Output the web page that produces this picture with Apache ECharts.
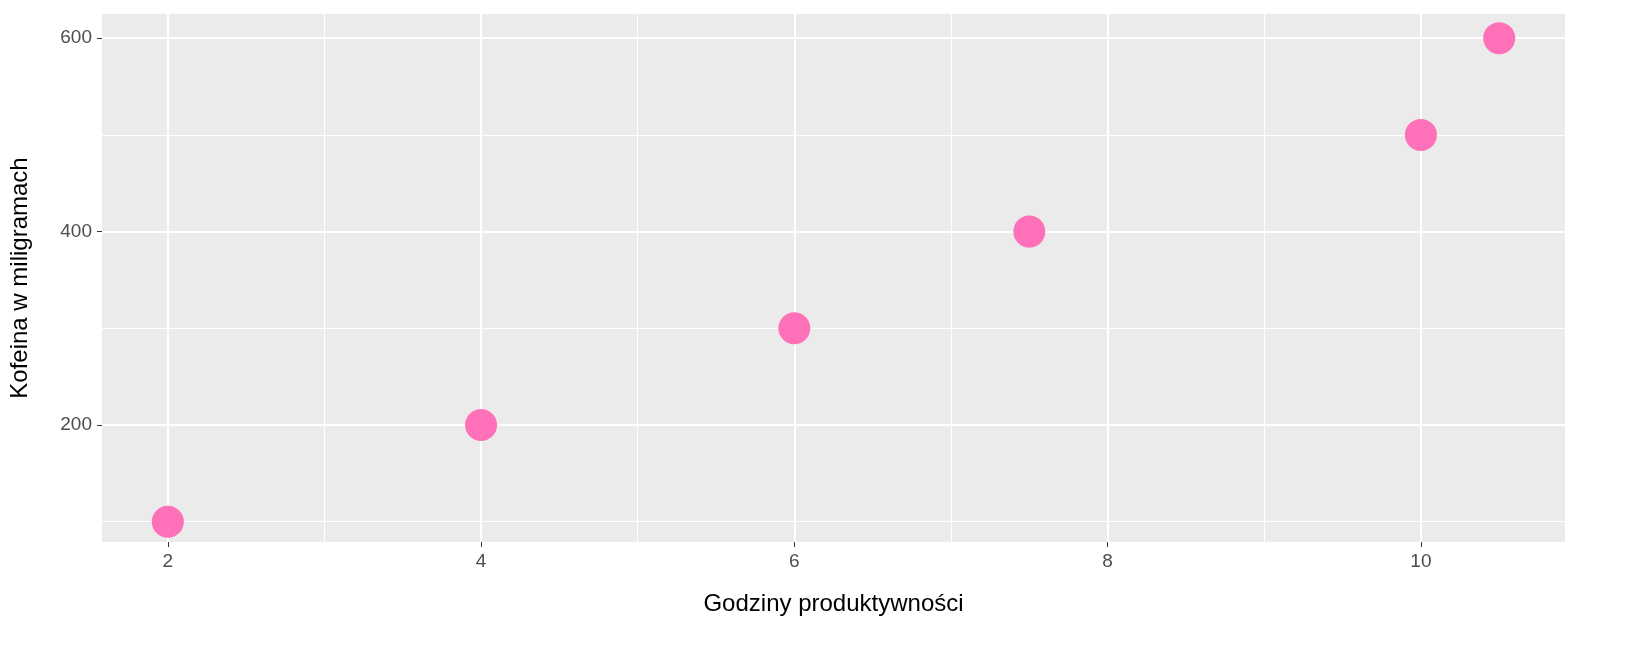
<!DOCTYPE html>
<html><head><meta charset="utf-8">
<script src="https://cdn.jsdelivr.net/npm/echarts@6/dist/echarts.min.js"></script>
<style>html,body{margin:0;padding:0;background:#fff}#c{width:1637px;height:656px}</style>
</head><body><div id="c"></div>
<script>
const hours = [2, 4, 6, 7.5, 10, 10.5];
const caffeine = [100, 200, 300, 400, 500, 600];
const xTicks = [2, 4, 6, 8, 10];
const xMinor = [3, 5, 7, 9];
const yTicks = [200, 400, 600];
const yMinor = [100, 300, 500];

const gridLines = [];
xTicks.forEach(v => gridLines.push({xAxis: v, lineStyle: {width: 2}}));
xMinor.forEach(v => gridLines.push({xAxis: v, lineStyle: {width: 1}}));
yTicks.forEach(v => gridLines.push({yAxis: v, lineStyle: {width: 2}}));
yMinor.forEach(v => gridLines.push({yAxis: v, lineStyle: {width: 1}}));

const chart = echarts.init(document.getElementById('c'));
chart.setOption({
  animation: false,
  grid: {left: 100, right: 72, top: 14, bottom: 114, show: true, backgroundColor: '#EBEBEB', borderWidth: 0},
  xAxis: {
    type: 'value', min: 1.58, max: 10.92,
    name: 'Godziny produktywności', nameLocation: 'middle', nameGap: 50,
    nameTextStyle: {fontSize: 24, color: '#000', fontFamily: 'Liberation Sans'},
    axisLine: {show: false}, splitLine: {show: false},
    axisTick: {show: true, customValues: xTicks, length: 5, lineStyle: {color: '#333'}},
    axisLabel: {customValues: xTicks, fontSize: 19, color: '#4D4D4D', fontFamily: 'Liberation Sans', margin: 10}
  },
  yAxis: {
    type: 'value', min: 79, max: 625,
    name: 'Kofeina w miligramach', nameLocation: 'middle', nameGap: 70,
    nameTextStyle: {fontSize: 24, color: '#000', fontFamily: 'Liberation Sans'},
    axisLine: {show: false}, splitLine: {show: false},
    axisTick: {show: true, customValues: yTicks, length: 5, lineStyle: {color: '#333'}},
    axisLabel: {customValues: yTicks, fontSize: 19, color: '#4D4D4D', fontFamily: 'Liberation Sans', margin: 10}
  },
  series: [{
    type: 'scatter',
    data: hours.map((h, i) => [h, caffeine[i]]),
    symbolSize: 32,
    itemStyle: {color: '#FF69B4', opacity: 0.95},
    markLine: {silent: true, symbol: 'none', label: {show: false}, z: 0,
      lineStyle: {color: '#FFFFFF', type: 'solid'}, data: gridLines},
    z: 5
  }]
});
</script></body></html>
